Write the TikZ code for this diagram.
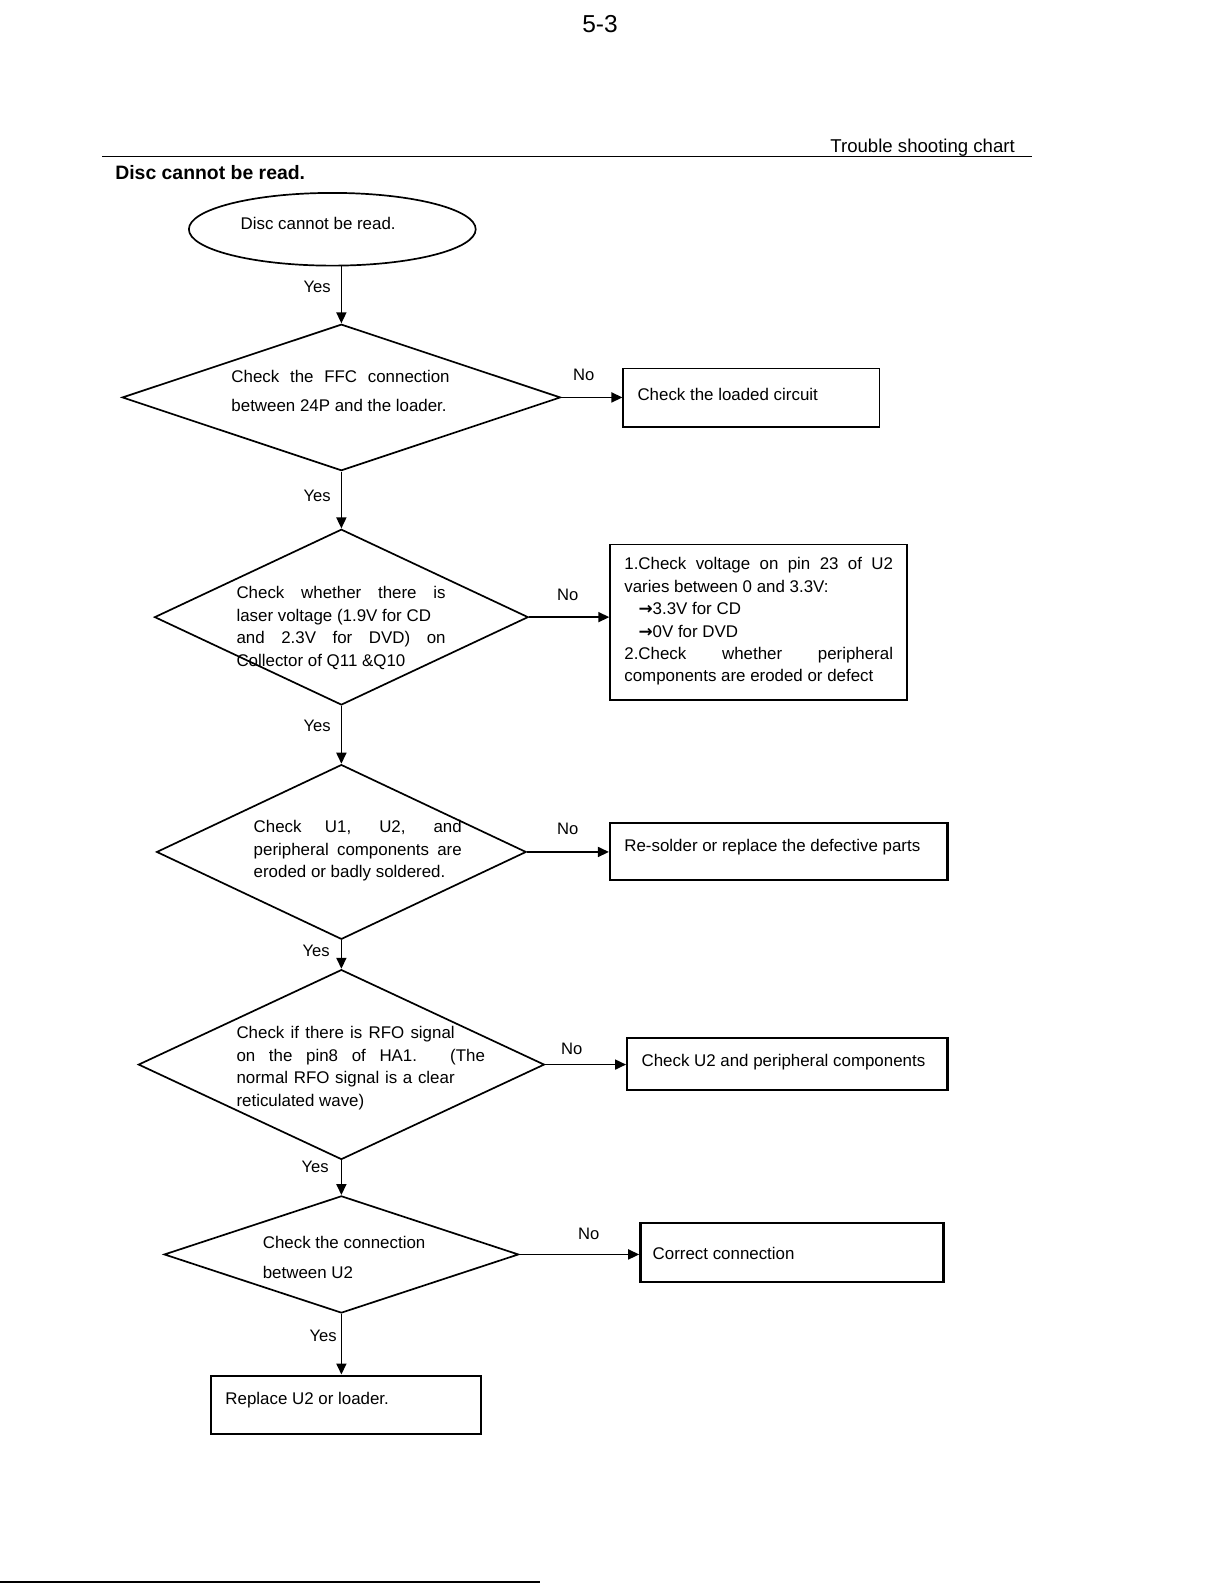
\documentclass[tikz,border=0pt]{standalone}
\usepackage{fontspec}
\setmainfont{Liberation Sans}
\newfontfamily\arrf{DejaVu Sans}
\usetikzlibrary{shapes.geometric,arrows.meta}
\newdimen\U \U=1.01pt
\newcommand\jl[2]{\makebox[#1\U][s]{#2}}
\tikzset{
 dia/.style={diamond, draw, line width=1.7pt, inner sep=0pt},
 box/.style={draw, rectangle, inner sep=0pt, line width=1.5pt},
 boxb/.style={box, line width=2.3pt},
 txt/.style={inner sep=0pt, anchor=north west, align=left, font=\fontsize{16.9}{#1}\selectfont},
 txt/.default=22.7pt,
 lbl/.style={inner sep=0pt, font=\fontsize{16.6}{20}\selectfont},
 arr/.style={line width=1.7pt, -{Triangle[length=11pt,width=10pt]}},
}
\begin{document}
\begin{tikzpicture}[x=1.01pt,y=-1.01pt]
\useasboundingbox (0,0) rectangle (1207.9,1567.3);
% header
\node[inner sep=0pt, font=\fontsize{24.5}{28}\selectfont] (pg) at (594,24) {5-3};
\node[inner sep=0pt, anchor=base west, font=\fontsize{18.6}{22}\selectfont] (tsc) at (822,150.7) {Trouble shooting chart};
\draw[line width=1.4pt] (101,155) coordinate (hl1) -- (1022,155) coordinate (hl2);
\node[inner sep=0pt, anchor=base west, font=\fontsize{19.4}{22}\selectfont\bfseries] (ttl) at (114,178) {Disc cannot be read.};
\draw[line width=2.2pt] (0,1566) coordinate (bl1) -- (535,1566) coordinate (bl2);

% start
\node[ellipse, draw, line width=1.7pt, inner sep=0pt, minimum width=284\U, minimum height=72\U] (e) at (329,227) {};
\node[inner sep=0pt, font=\fontsize{16.9}{20}\selectfont] (et) at (315,221) {Disc cannot be read.};

% diamonds
\node[dia, minimum width=434\U, minimum height=145\U] (d1) at (338,393.5) {};
\node[dia, minimum width=370\U, minimum height=174\U] (d2) at (338,611) {};
\node[dia, minimum width=366\U, minimum height=173\U] (d3) at (338,843.5) {};
\node[dia, minimum width=402\U, minimum height=188\U] (d4) at (338,1054) {};
\node[dia, minimum width=351\U, minimum height=116\U] (d5) at (338,1242) {};

\node[txt=29.3pt] (d1t) at (229,366) {\jl{216}{Check the FFC connection}\\ between 24P and the loader.};
\node[txt=22.8pt] (d2t) at (234,580) {\jl{207}{Check whether there is}\\ laser voltage (1.9V for CD\\ \jl{207}{and 2.3V for DVD) on}\\ Collector of Q11 \&Q10};
\node[txt=22.7pt] (d3t) at (251,812) {\jl{206}{Check U1, U2, and}\\ \jl{206}{peripheral components are}\\ eroded or badly soldered.};
\node[txt=22.6pt] (d4t) at (234,1016) {\jl{216}{Check if there is RFO signal}\\ \jl{246}{on the pin8 of HA1. (The}\\ \jl{216}{normal RFO signal is a clear}\\ reticulated wave)};
\node[txt=29.3pt] (d5t) at (260,1224) {Check the connection\\ between U2};

% boxes
\node[box, minimum width=254\U, minimum height=58\U] (b1) at (744,394) {};
\node[box, minimum width=294\U, minimum height=154\U] (b2) at (751,616) {};
\node[boxb, minimum width=334\U, minimum height=56\U] (b3) at (771,843) {};
\node[boxb, minimum width=317\U, minimum height=51\U] (b4) at (779.5,1053.5) {};
\node[boxb, minimum width=300\U, minimum height=58\U] (b5) at (784,1240) {};
\node[boxb, minimum width=267\U, minimum height=58\U] (b6) at (342.5,1391) {};

\node[txt] (b1t) at (631,384) {Check the loaded circuit};
\node[txt=22.4pt] (b2t) at (618,552) {\jl{266}{1.Check voltage on pin 23 of U2}\\ varies between 0 and 3.3V:\\ \hspace*{14\U}{\arrf\bfseries →}3.3V for CD\\ \hspace*{14\U}{\arrf\bfseries →}0V for DVD\\ \jl{266}{2.Check whether peripheral}\\ components are eroded or defect};
\node[txt] (b3t) at (618,831) {Re-solder or replace the defective parts};
\node[txt] (b4t) at (635,1044) {Check U2 and peripheral components};
\node[txt] (b5t) at (646,1235) {Correct connection};
\node[txt] (b6t) at (223,1378) {Replace U2 or loader.};

% connectors
\draw[arr] (d1.north |- e.south) -- (d1.north);
\draw[arr] (d1.south) -- (d2.north);
\draw[arr] (d2.south) -- (d3.north);
\draw[arr] (d3.south) -- (d4.north);
\draw[arr] (d4.south) -- (d5.north);
\draw[arr] (d5.south) -- (d5.south |- b6.north);
\draw[arr] (d1.east) -- (d1.east -| b1.west);
\draw[arr] (d2.east) -- (d2.east -| b2.west);
\draw[arr] (d3.east) -- (d3.east -| b3.west);
\draw[arr] (d4.east) -- (d4.east -| b4.west);
\draw[arr] (d5.east) -- (d5.east -| b5.west);

% labels
\node[lbl] (y1) at (314,284) {Yes};
\node[lbl] (y2) at (314,491) {Yes};
\node[lbl] (y3) at (314,719) {Yes};
\node[lbl] (y4) at (313,941) {Yes};
\node[lbl] (y5) at (312,1155) {Yes};
\node[lbl] (y6) at (320,1323) {Yes};
\node[lbl] (n1) at (578,371) {No};
\node[lbl] (n2) at (562,589) {No};
\node[lbl] (n3) at (562,821) {No};
\node[lbl] (n4) at (566,1038) {No};
\node[lbl] (n5) at (583,1222) {No};
\end{tikzpicture}
\end{document}
